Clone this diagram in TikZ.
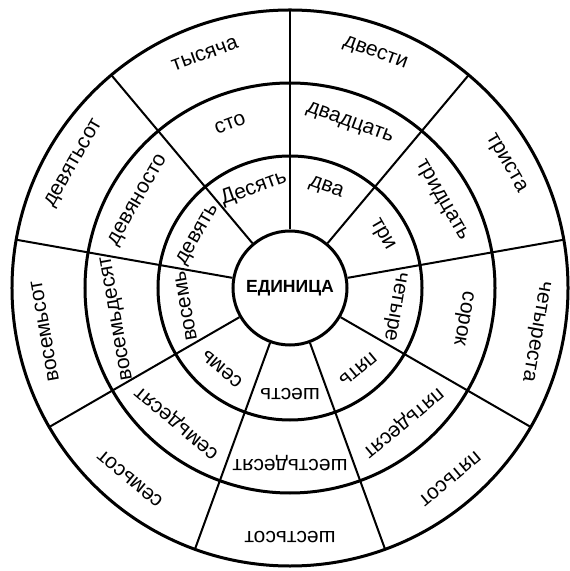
\documentclass[tikz,border=0pt]{standalone}
\usepackage{fontspec}
\setmainfont{Liberation Sans}
\begin{document}
\begin{tikzpicture}[font=\fontsize{10.5}{12}\selectfont]
            \useasboundingbox (-145pt,-141.5pt) rectangle (139.5pt,144pt);
            \node[circle,draw,line width=1.5pt,minimum size=57pt,inner sep=0pt,font=\bfseries\fontsize{8.8}{11}\selectfont] (unit) at (0,0) {ЕДИНИЦА};
            \foreach \r in {66,102.5,139} {
                \draw[line width=1.5pt] (0,0) circle[radius=\r pt];
            }
            \foreach \k in {0,...,8} {
                \pgfmathsetmacro\a{90-40*\k}
                \draw[line width=1pt] (unit.\a) -- (\a:139pt);
            }
            \foreach \one/\ten/\hun [count=\k from 0] in {два/двадцать/двести,три/тридцать/триста,четыре/сорок/четыреста,пять/пятьдесят/пятьсот,шесть/шестьдесят/шестьсот,семь/семьдесят/семьсот,восемь/восемьдесят/восемьсот,девять/девяносто/девятьсот,Десять/сто/тысяча} {
                \pgfmathsetmacro\a{70-40*\k}
                \node[rotate=\a-90] (one\k) at (\a:53pt) {\one};
                \node[rotate=\a-90] (ten\k) at (\a:87.5pt) {\ten};
                \node[rotate=\a-90] (hun\k) at (\a:124.5pt) {\hun};
            }
        \end{tikzpicture}
\end{document}
